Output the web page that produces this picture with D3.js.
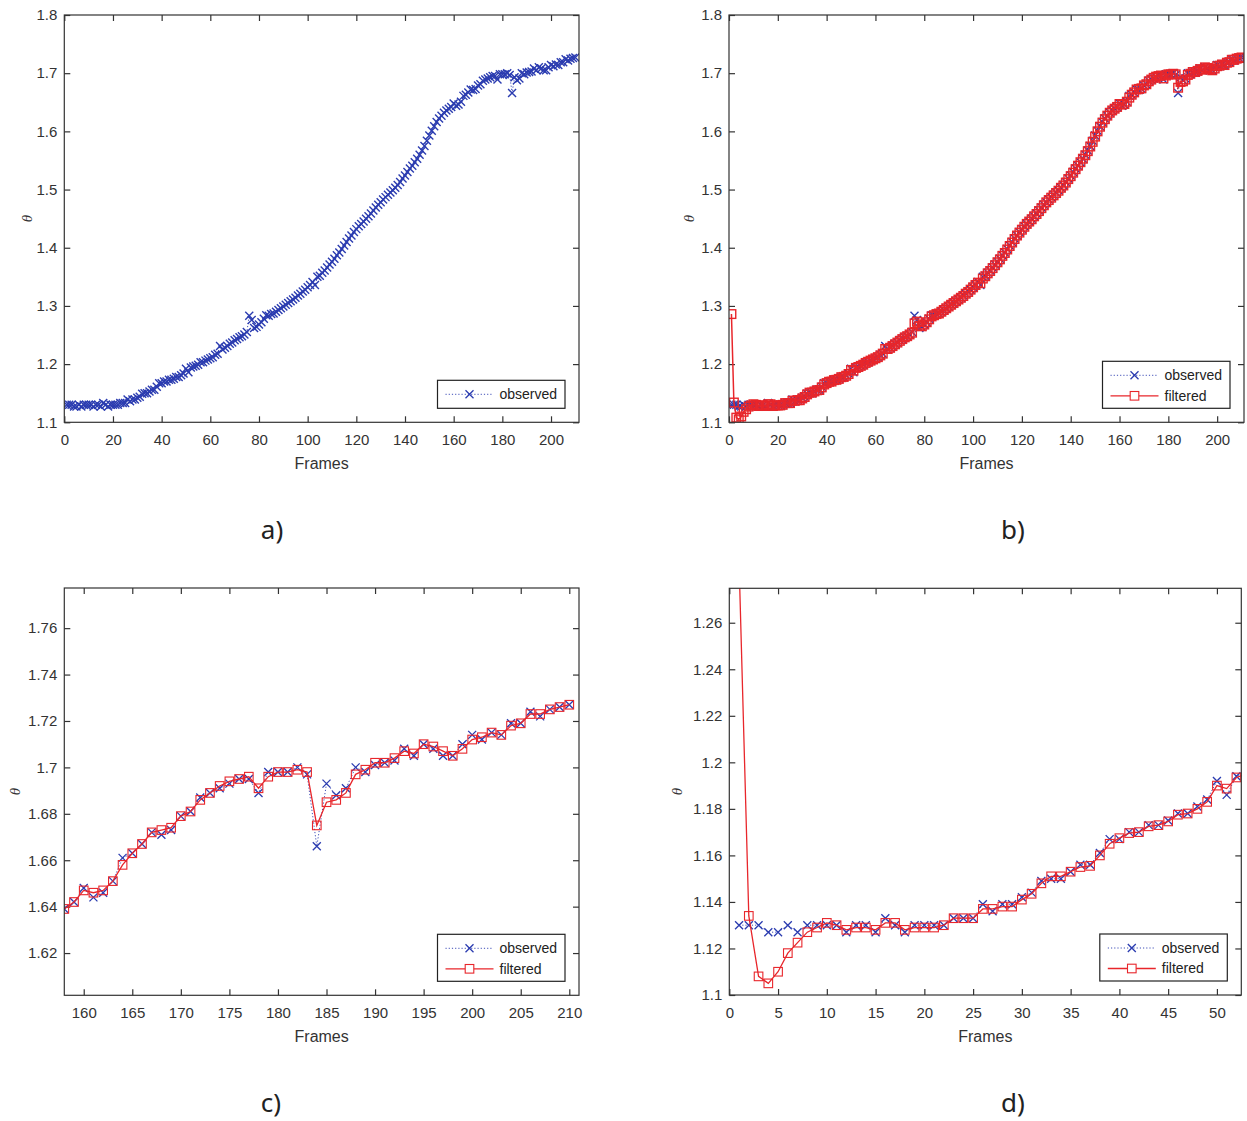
<!DOCTYPE html>
<html><head><meta charset="utf-8">
<script src="https://cdn.jsdelivr.net/npm/d3@7"></script>
<style>body{margin:0;background:#fff}svg{display:block}</style>
</head><body><svg id="chart" width="1247" height="1121"></svg>
<script>
// ---------- data ----------
const frames = d3.range(1, 211);
const observed = [
 1.130,1.130,1.130,1.127,1.127,1.130,1.127,1.130,1.130,1.130,
 1.130,1.127,1.130,1.130,1.127,1.133,1.130,1.127,1.130,1.130,
 1.130,1.130,1.133,1.133,1.133,1.139,1.136,1.139,1.139,1.142,
 1.144,1.149,1.150,1.150,1.153,1.156,1.156,1.161,1.167,1.167,
 1.170,1.170,1.173,1.173,1.175,1.178,1.178,1.181,1.184,1.192,
 1.186,1.194,
 1.196,1.197,1.199,1.203,1.203,1.206,1.208,1.210,
 1.212,1.216,1.218,1.231,1.225,1.228,1.231,1.235,1.237,1.241,
 1.243,1.246,1.248,1.251,1.255,1.283,1.276,1.262,1.264,1.268,
 1.272,1.278,1.284,1.283,1.286,1.287,1.290,1.293,1.296,1.299,
 1.302,1.305,1.308,1.311,1.314,1.318,1.321,1.325,1.328,1.332,
 1.336,1.341,1.336,1.350,1.352,1.357,1.361,1.366,1.371,1.376,
 1.381,1.387,1.392,1.398,1.404,1.410,1.416,1.421,1.427,1.432,
 1.437,1.441,1.445,1.450,1.454,1.459,1.464,1.469,1.474,1.478,
 1.483,1.487,1.491,1.495,1.499,1.503,1.508,1.513,1.519,1.524,
 1.530,1.536,1.541,1.547,1.553,1.560,1.567,1.575,1.584,1.593,
 1.601,1.609,1.616,1.622,1.627,1.632,1.636,
 1.639,1.642,1.648,
 1.644,1.646,1.651,1.661,1.663,1.667,1.672,1.671,1.673,1.679,
 1.681,1.687,1.689,1.691,1.693,1.695,1.695,1.689,1.698,1.698,
 1.698,1.700,1.697,1.666,1.693,1.688,1.691,1.700,1.698,1.701,
 1.702,1.703,1.708,1.705,1.710,1.708,1.705,1.705,1.710,1.714,
 1.712,1.715,1.714,1.719,1.719,1.724,1.722,1.725,1.726,1.727
];
const filtered = [
 1.286,1.134,1.108,1.105,1.110,1.118,1.1225,1.127,1.129,1.131,
 1.130,1.128,1.129,1.129,1.128,1.131,1.131,1.128,1.129,1.129,
 1.129,1.130,1.133,1.133,1.133,1.137,1.137,1.138,1.138,1.141,
 1.1435,1.148,1.151,1.151,1.153,1.155,1.1555,1.160,1.165,1.1674,
 1.1696,1.170,1.1725,1.173,1.1746,1.1775,1.178,1.180,1.183,1.190,
 1.1887,1.1935,
 1.195,1.197,1.199,1.202,1.204,1.206,1.208,1.210,
 1.212,1.215,1.218,1.226,1.226,1.228,1.231,1.234,1.237,1.240,
 1.243,1.246,1.248,1.251,1.254,1.270,1.273,1.266,1.265,1.268,
 1.272,1.277,1.282,1.284,1.286,1.287,1.290,1.293,1.296,1.299,
 1.302,1.305,1.308,1.311,1.314,1.317,1.321,1.324,1.328,1.332,
 1.336,1.340,1.339,1.347,1.351,1.356,1.360,1.365,1.370,1.375,
 1.380,1.386,1.391,1.397,1.403,1.409,1.415,1.421,1.426,1.431,
 1.436,1.441,1.445,1.449,1.454,1.458,1.463,1.468,1.473,1.478,
 1.482,1.486,1.490,1.494,1.498,1.503,1.507,1.512,1.518,1.523,
 1.529,1.535,1.541,1.547,1.553,1.559,1.566,1.574,1.582,1.591,
 1.600,1.608,1.615,1.621,1.627,1.632,1.636,
 1.639,1.642,1.647,
 1.646,1.647,1.651,1.658,1.663,1.667,1.672,1.673,1.674,1.679,
 1.681,1.686,1.689,1.692,1.694,1.695,1.696,1.691,1.696,1.698,
 1.698,1.699,1.698,1.675,1.685,1.686,1.689,1.697,1.699,1.702,
 1.702,1.704,1.707,1.706,1.710,1.709,1.707,1.705,1.708,1.712,
 1.713,1.715,1.714,1.718,1.719,1.723,1.723,1.725,1.726,1.727
];
const xTicksFull = [0,20,40,60,80,100,120,140,160,180,200];
const yTicksFull = [1.1,1.2,1.3,1.4,1.5,1.6,1.7,1.8];
const xTicksEnd = [160,165,170,175,180,185,190,195,200,205,210];
const yTicksEnd = [1.62,1.64,1.66,1.68,1.7,1.72,1.74,1.76];
const xTicksStart = [0,5,10,15,20,25,30,35,40,45,50];
const yTicksStart = [1.1,1.12,1.14,1.16,1.18,1.2,1.22,1.24,1.26];
const panelLabels = ["a)","b)","c)","d)"];
const seriesNames = ["observed","filtered"];
const xTitle = "Frames";
const yTitle = "θ";

// ---------- layout ----------
const panels = [
 {lab:panelLabels[0], L:64.3, R:579, T:15, B:422.3, xDom:[0,211.5], yDom:[1.1,1.8], xt:xTicksFull, yt:yTicksFull, show:[0], ylabX:27, labX:272, labY:539, dense:true},
 {lab:panelLabels[1], L:729, R:1244, T:15, B:422.3, xDom:[0,211], yDom:[1.1,1.8], xt:xTicksFull, yt:yTicksFull, show:[0,1], ylabX:689, labX:1013, labY:539, dense:true},
 {lab:panelLabels[2], L:64.3, R:579, T:588, B:995.3, xDom:[158,211], yDom:[1.6018,1.7773], xt:xTicksEnd, yt:yTicksEnd, show:[0,1], ylabX:15, labX:271, labY:1112, dense:false},
 {lab:panelLabels[3], L:729.3, R:1241.3, T:588.3, B:995, xDom:[0,52.5], yDom:[1.1,1.2748], xt:xTicksStart, yt:yTicksStart, show:[0,1], ylabX:677, labX:1013, labY:1112, dense:false}
];
const BLUE = "#2b3cb0", RED = "#e8262b", AX = "#333";
const seriesData = [observed, filtered];
const svg = d3.select("#chart");
const fmt = d3.format("~g");
const xMark = s => `M${-s},${-s}L${s},${s}M${-s},${s}L${s},${-s}`;

function drawSeries(g, k, x, y, pts, dense) {
  const line = d3.line().x(d => x(d[0])).y(d => y(d[1]));
  if (k === 0) {
    g.append("path").attr("d", line(pts)).attr("fill","none")
      .attr("stroke", BLUE).attr("stroke-width",0.9).attr("stroke-dasharray","1.2,2");
    g.selectAll(null).data(pts).join("path").attr("d", xMark(dense ? 4 : 4))
      .attr("transform", d => `translate(${x(d[0])},${y(d[1])})`)
      .attr("fill","none").attr("stroke", BLUE).attr("stroke-width", dense ? 1.4 : 1.3);
  } else {
    g.append("path").attr("d", line(pts)).attr("fill","none")
      .attr("stroke", RED).attr("stroke-width", dense ? 1.5 : 1.3);
    const h = 4.3;
    g.selectAll(null).data(pts).join("rect")
      .attr("x", d => x(d[0]) - h).attr("y", d => y(d[1]) - h)
      .attr("width",2*h).attr("height",2*h)
      .attr("fill","none").attr("stroke", RED).attr("stroke-width", dense ? 1.4 : 1.1);
  }
}

panels.forEach((p, i) => {
  const x = d3.scaleLinear().domain(p.xDom).range([p.L, p.R]);
  const y = d3.scaleLinear().domain(p.yDom).range([p.B, p.T]);
  const g = svg.append("g");
  const cid = "clip" + i;
  svg.append("clipPath").attr("id", cid).append("rect")
    .attr("x", p.L).attr("y", p.T).attr("width", p.R - p.L).attr("height", p.B - p.T);

  const styleAxis = sel => {
    sel.select(".domain").remove();
    sel.selectAll(".tick line").attr("stroke", AX).attr("stroke-width",1.2);
    sel.selectAll(".tick text").attr("fill","#333")
      .style("font-family","'Liberation Sans', Arial, sans-serif").style("font-size","15px");
  };
  g.append("g").attr("transform",`translate(0,${p.B})`)
    .call(d3.axisBottom(x).tickValues(p.xt).tickSize(-6).tickPadding(12).tickFormat(fmt)).call(styleAxis);
  g.append("g").attr("transform",`translate(0,${p.T})`)
    .call(d3.axisTop(x).tickValues(p.xt).tickSize(-6).tickFormat("")).call(styleAxis);
  g.append("g").attr("transform",`translate(${p.L},0)`)
    .call(d3.axisLeft(y).tickValues(p.yt).tickSize(-6).tickPadding(7).tickFormat(fmt)).call(styleAxis);
  g.append("g").attr("transform",`translate(${p.R},0)`)
    .call(d3.axisRight(y).tickValues(p.yt).tickSize(-6).tickFormat("")).call(styleAxis);

  const dg = g.append("g").attr("clip-path", `url(#${cid})`);
  p.show.forEach(k => {
    const pts = frames.map((f, j) => [f, seriesData[k][j]])
      .filter(d => d[0] >= p.xDom[0] - 1 && d[0] <= p.xDom[1] + 1);
    drawSeries(dg, k, x, y, pts, p.dense);
  });

  g.append("rect").attr("x", p.L).attr("y", p.T).attr("width", p.R - p.L).attr("height", p.B - p.T)
    .attr("fill","none").attr("stroke", AX).attr("stroke-width",1.2);

  // legend
  const n = p.show.length;
  const lw = 127.5, lh = n === 1 ? 28 : 47;
  const lx = p.R - 14 - lw, ly = p.B - 14 - lh;
  const lg = g.append("g");
  lg.append("rect").attr("x", lx).attr("y", ly).attr("width", lw).attr("height", lh)
    .attr("fill","#fff").attr("stroke","#222").attr("stroke-width",1.2);
  p.show.forEach((k, r) => {
    const ry = ly + 14 + r * 20.5;
    const row = lg.append("g");
    if (k === 0) {
      row.append("line").attr("x1", lx + 8).attr("x2", lx + 56).attr("y1", ry).attr("y2", ry)
        .attr("stroke", BLUE).attr("stroke-width",0.9).attr("stroke-dasharray","1.2,2");
      row.append("path").attr("d", xMark(4)).attr("transform",`translate(${lx + 32},${ry})`)
        .attr("fill","none").attr("stroke", BLUE).attr("stroke-width",1.3);
    } else {
      row.append("line").attr("x1", lx + 8).attr("x2", lx + 56).attr("y1", ry).attr("y2", ry)
        .attr("stroke", RED).attr("stroke-width",1.3);
      row.append("rect").attr("x", lx + 32 - 4.3).attr("y", ry - 4.3).attr("width",8.6).attr("height",8.6)
        .attr("fill","#fff").attr("stroke", RED).attr("stroke-width",1.1);
    }
    row.append("text").attr("x", lx + 62).attr("y", ry).attr("dy","0.35em")
      .style("font-family","'Liberation Sans', Arial, sans-serif").style("font-size","14px")
      .attr("fill","#222").text(seriesNames[k]);
  });

  g.append("text").attr("x", (p.L + p.R) / 2).attr("y", p.B + 47).attr("text-anchor","middle")
    .style("font-family","'Liberation Sans', Arial, sans-serif").style("font-size","16px")
    .attr("fill","#333").text(xTitle);
  g.append("text").attr("transform",`translate(${p.ylabX},${(p.T + p.B) / 2}) rotate(-90)`)
    .attr("text-anchor","middle").attr("dy","0.35em")
    .style("font-family","'Liberation Serif', 'Times New Roman', serif").style("font-style","italic").style("font-size","15px")
    .attr("fill","#333").text(yTitle);
  svg.append("text").attr("x", p.labX).attr("y", p.labY).attr("text-anchor","middle")
    .style("font-family","'Noto Sans', 'Open Sans', sans-serif").style("font-size","26px")
    .attr("fill","#222").text(p.lab);
});
</script>
</body></html>
